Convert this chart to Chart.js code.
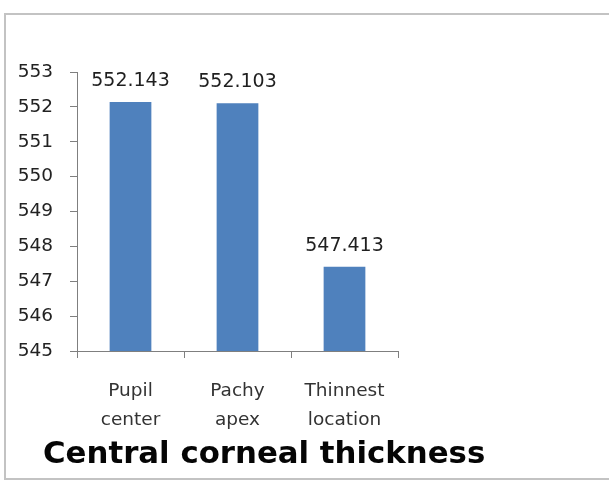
<!DOCTYPE html>
<html>
<head>
<meta charset="utf-8">
<script src="https://cdn.jsdelivr.net/npm/chart.js@4/dist/chart.umd.min.js"></script>
<style>
  html, body { margin: 0; padding: 0; background: #fff; overflow: hidden; }
  body { width: 609px; height: 481px; position: relative; }
  .frame {
    position: absolute; left: 4px; top: 13px; width: 700px; height: 463px;
    border: 2px solid #c3c3c3; border-right: none;
  }
  .wrap { position: absolute; left: 0; top: 0; width: 609px; height: 440px; }
  .title {
    position: absolute; left: 43px; top: 437px;
    font: bold 30.8px "DejaVu Sans", sans-serif; line-height: 1; color: #050505;
    white-space: nowrap;
  }
</style>
</head>
<body>
<div class="frame"></div>
<div class="wrap"><canvas id="thicknessChart"></canvas></div>
<div class="title">Central corneal thickness</div>
<script>
const categories = [['Pupil', 'center'], ['Pachy', 'apex'], ['Thinnest', 'location']];
const thickness = [552.143, 552.103, 547.413];
const yTicks = [545, 546, 547, 548, 549, 550, 551, 552, 553];

const axisColor = '#7f7f7f';
const font = 'DejaVu Sans';

// value labels above each bar
const barLabels = {
  id: 'barLabels',
  afterDatasetsDraw(chart) {
    const { ctx } = chart;
    const meta = chart.getDatasetMeta(0);
    ctx.save();
    ctx.font = '19px "' + font + '"';
    ctx.fillStyle = '#1f1f1f';
    ctx.textAlign = 'center';
    ctx.textBaseline = 'alphabetic';
    meta.data.forEach((bar, i) => {
      ctx.fillText(thickness[i].toFixed(3), bar.x, bar.y - 16);
    });
    ctx.restore();
  }
};

new Chart(document.getElementById('thicknessChart'), {
  type: 'bar',
  data: {
    labels: categories,
    datasets: [{
      data: thickness,
      backgroundColor: '#4f81bd',
      borderWidth: 0,
      barPercentage: 0.39,
      categoryPercentage: 1
    }]
  },
  options: {
    responsive: true,
    maintainAspectRatio: false,
    animation: false,
    layout: { padding: { top: 72, left: 10, right: 211, bottom: 0 } },
    plugins: {
      legend: { display: false },
      tooltip: { enabled: false }
    },
    scales: {
      x: {
        afterFit: (s) => { s.height = 89; },
        border: { color: axisColor, width: 1 },
        grid: { offset: true, drawOnChartArea: false, tickLength: 7, color: axisColor },
        ticks: {
          padding: 19,
          color: '#333333',
          font: { family: font, size: 18.5, lineHeight: 1.57 }
        }
      },
      y: {
        min: yTicks[0],
        max: yTicks[yTicks.length - 1],
        afterFit: (s) => { s.width = 67; },
        afterBuildTicks: (s) => { s.ticks = yTicks.map(v => ({ value: v })); },
        border: { color: axisColor, width: 1 },
        grid: { drawOnChartArea: false, tickLength: 7, color: axisColor },
        ticks: {
          padding: 17,
          color: '#222222',
          font: { family: font, size: 18.5 }
        }
      }
    }
  },
  plugins: [barLabels]
});
</script>
</body>
</html>
